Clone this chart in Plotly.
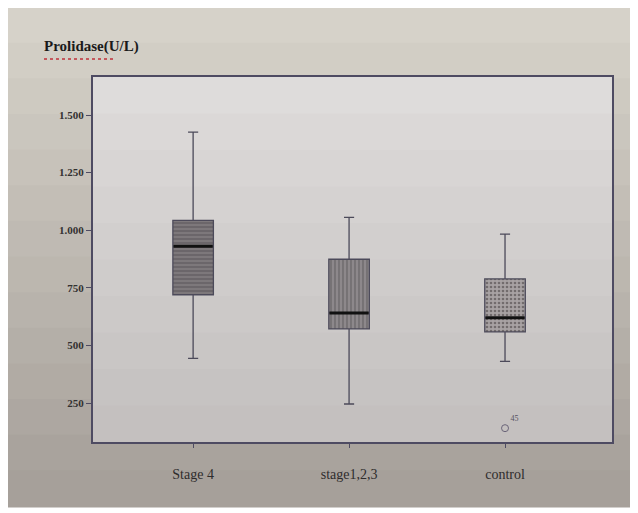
import plotly.graph_objects as go

# ---- data ----
groups = ["Stage 4", "stage1,2,3", "control"]
xpos = [0, 1, 2]
lower_whisker = [444, 246, 431]
q1 = [720, 572, 559]
median = [931, 641, 620]
q3 = [1043, 874, 789]
upper_whisker = [1426, 1056, 983]
outlier_x = [2]
outlier_y = [141]
outlier_label = ["45"]
ytick_vals = [250, 500, 750, 1000, 1250, 1500]
ytick_text = ["250", "500", "750", "1.000", "1.250", "1.500"]

patterns = ["-", "|", "."]
box_bg = ["#7d787b", "#8d888b", "#a8a2a3"]
box_fg = ["#4a4549", "#4d484c", "#3b3638"]

OFF = 7  # page offset of the figure inside the browser window
W, H = 638, 513
L, R, T, B = 92 - OFF, 638 - (611 - OFF), 76 - OFF, 513 - (441 - OFF)
pw, ph = W - L - R, H - T - B

def px2fx(px):
    return (px - OFF - L) / pw

def py2fy(py):
    return (H - B - (py - OFF)) / ph

fig = go.Figure()

# patterned box bodies
for i in range(3):
    fig.add_trace(go.Bar(
        x=[xpos[i]], y=[q3[i] - q1[i]], base=[q1[i]], width=0.26,
        marker=dict(color=box_bg[i], line=dict(width=0),
                    pattern=dict(shape=patterns[i], fgcolor=box_fg[i],
                                 bgcolor=box_bg[i], size=4, solidity=0.35)),
        showlegend=False, hoverinfo="skip"))

# box outlines and whiskers
for i in range(3):
    fig.add_trace(go.Box(
        x=[xpos[i]], q1=[q1[i]], median=[median[i]], q3=[q3[i]],
        lowerfence=[lower_whisker[i]], upperfence=[upper_whisker[i]],
        width=0.26, whiskerwidth=0.25, fillcolor="rgba(0,0,0,0)",
        line=dict(color="#4c4a5a", width=1.3), boxpoints=False,
        showlegend=False))

# thick median lines
fig.add_trace(go.Scatter(
    x=xpos, y=median, mode="markers",
    marker=dict(symbol="line-ew-open", size=28, color="#111111",
                line=dict(color="#111111", width=3)),
    showlegend=False, hoverinfo="skip"))

# outlier
fig.add_trace(go.Scatter(
    x=outlier_x, y=outlier_y, mode="markers+text",
    text=outlier_label, textposition="top right",
    textfont=dict(family="Liberation Serif", size=8, color="#555060"),
    marker=dict(symbol="circle-open", size=7, color="#6a6478",
                line=dict(width=1)),
    showlegend=False, hoverinfo="skip"))

# photo-like background bands (paper)
n = 14
top_c = (214, 210, 201)
bot_c = (166, 160, 154)
y0p, y1p = 6, 505
for k in range(n):
    t = k / (n - 1)
    c = tuple(int(top_c[j] + (bot_c[j] - top_c[j]) * t) for j in range(3))
    ya = y0p + (y1p - y0p) * k / n
    yb = y0p + (y1p - y0p) * (k + 1) / n + 1.5
    fig.add_shape(type="rect", xref="paper", yref="paper",
                  x0=px2fx(0), x1=px2fx(660), y0=py2fy(yb), y1=py2fy(ya),
                  fillcolor="rgb(%d,%d,%d)" % c, line=dict(width=0),
                  layer="below")

# plot-area bands
ptop = (222, 220, 219)
pbot = (196, 192, 191)
m = 10
for k in range(m):
    t = k / (m - 1)
    c = tuple(int(ptop[j] + (pbot[j] - ptop[j]) * t) for j in range(3))
    fig.add_shape(type="rect", xref="paper", yref="paper",
                  x0=0, x1=1, y0=1 - (k + 1) / m - 0.004, y1=1 - k / m,
                  fillcolor="rgb(%d,%d,%d)" % c, line=dict(width=0),
                  layer="below")

# red spell-check underline under title word
fig.add_shape(type="line", xref="paper", yref="paper",
              x0=px2fx(43), x1=px2fx(112), y0=py2fy(58), y1=py2fy(58),
              line=dict(color="#c0303a", width=1.5, dash="dot"))

fig.add_annotation(text="<b>Prolidase(U/L)</b>", xref="paper", yref="paper",
                   x=px2fx(41), y=py2fy(45), xanchor="left", yanchor="middle",
                   showarrow=False,
                   font=dict(family="Liberation Serif", size=15, color="#1a1a1a"))

fig.update_layout(
    width=W, height=H,
    margin=dict(l=L, r=R, t=T, b=B),
    paper_bgcolor="#ffffff",
    plot_bgcolor="rgba(0,0,0,0)",
    barmode="overlay",
    bargap=0,
    xaxis=dict(
        range=[-0.642, 2.686], tickvals=xpos, ticktext=groups,
        showgrid=False, zeroline=False, showline=True, mirror=True,
        linecolor="#4e4b62", linewidth=2, ticks="outside", ticklen=4,
        tickcolor="#4e4b62", ticklabelstandoff=14,
        tickfont=dict(family="Liberation Serif", size=14, color="#2e2c2c")),
    yaxis=dict(
        range=[81, 1665], tickvals=ytick_vals,
        ticktext=["<b>" + s + "</b>" for s in ytick_text],
        showgrid=False, zeroline=False, showline=True, mirror=True,
        linecolor="#4e4b62", linewidth=2, ticks="outside", ticklen=5,
        tickcolor="#4e4b62",
        tickfont=dict(family="Liberation Serif", size=11, color="#333131")),
)

fig.write_html("out.html")
